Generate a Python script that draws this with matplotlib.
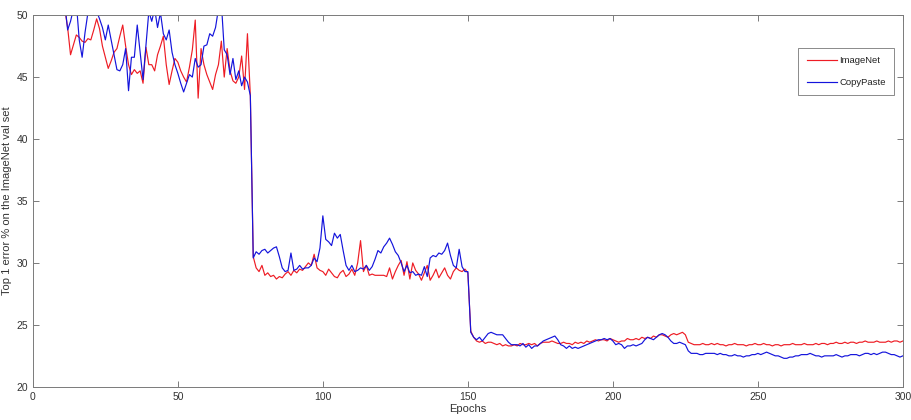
import numpy as np
import matplotlib
matplotlib.use("Agg")
import matplotlib.pyplot as plt

epochs = np.arange(1, 301)

imagenet_err = [
    56.0, 54.5, 53.5, 52.8, 52.0, 51.5, 51.2, 50.8, 50.6, 50.4,
    50.5, 49.0, 46.8, 47.6, 48.4, 48.2, 47.9, 47.8, 48.1, 48.0,
    48.8, 49.7, 48.9, 47.5, 46.6, 45.7, 46.3, 47.0, 47.3, 48.3,
    49.2, 47.5, 46.0, 45.2, 45.6, 45.3, 45.5, 44.5, 47.4, 46.0,
    46.0, 45.5, 46.8, 47.5, 48.3, 46.0, 44.4, 45.5, 46.5, 46.2,
    45.5, 45.0, 44.6, 45.8, 47.2, 49.6, 43.3, 47.3, 46.0, 45.2,
    44.6, 44.0, 45.2, 46.0, 47.9, 45.0, 47.3, 45.5, 44.7, 44.5,
    45.0, 46.7, 44.0, 48.5, 43.5,
    30.5, 29.6, 29.3, 29.8, 29.0, 29.2, 28.9, 29.0, 28.7, 28.9,
    28.8, 29.1, 29.3, 29.0, 29.4, 29.2, 29.5, 29.4, 29.7, 30.0,
    29.8, 30.7, 29.6, 29.4, 29.3, 29.0, 29.5, 29.2, 28.9, 28.8,
    29.2, 29.4, 28.9, 29.1, 29.5, 29.0, 30.0, 31.8, 29.3, 29.8,
    29.0, 29.1, 29.0, 29.0, 29.0, 29.0, 28.9, 29.6, 28.7, 29.3,
    29.8, 30.2, 29.0, 30.1, 28.7, 30.0, 29.4, 29.1, 28.6, 29.2,
    29.8, 28.6, 29.0, 29.5, 28.8, 29.2, 29.6, 29.0, 28.7, 29.3,
    29.6, 29.4, 29.3, 29.5, 29.2,
    24.5, 24.0, 23.7, 23.6, 23.7, 23.5, 23.6, 23.6, 23.5, 23.4,
    23.5, 23.3, 23.4, 23.3, 23.3, 23.4, 23.3, 23.5, 23.4, 23.4,
    23.5, 23.4, 23.5, 23.3, 23.5, 23.6, 23.6, 23.6, 23.7, 23.6,
    23.5, 23.5, 23.6, 23.5, 23.5, 23.4, 23.6, 23.5, 23.6, 23.5,
    23.7, 23.6, 23.7, 23.8, 23.7, 23.8, 23.8, 23.7, 23.9, 23.8,
    23.7, 23.6, 23.7, 23.7, 23.9, 23.8, 23.8, 23.9, 23.8, 24.0,
    23.9, 24.0, 23.9, 24.1, 24.0, 24.2, 24.2, 24.1, 24.0, 24.2,
    24.3, 24.2, 24.3, 24.4, 24.2,
    23.6, 23.5, 23.4, 23.4, 23.4, 23.5, 23.4, 23.4, 23.5, 23.4,
    23.5, 23.4, 23.4, 23.3, 23.4, 23.4, 23.5, 23.4, 23.4, 23.4,
    23.3, 23.4, 23.4, 23.5, 23.4, 23.4, 23.5, 23.4, 23.4, 23.3,
    23.4, 23.4, 23.3, 23.4, 23.4, 23.4, 23.5, 23.4, 23.4, 23.4,
    23.5, 23.4, 23.4, 23.4, 23.5, 23.4, 23.5, 23.5, 23.4, 23.5,
    23.5, 23.6, 23.5, 23.5, 23.6, 23.5, 23.6, 23.6, 23.5, 23.6,
    23.6, 23.7, 23.6, 23.6, 23.6, 23.7, 23.6, 23.6, 23.6, 23.7,
    23.6, 23.7, 23.7, 23.6, 23.7,
]

copypaste_err = [
    57.0, 55.0, 54.0, 53.0, 52.5, 52.0, 51.5, 51.2, 51.0, 50.8,
    51.0, 48.8, 49.5, 50.5, 51.0, 48.0, 46.6, 48.6, 50.2, 50.5,
    50.8, 50.3, 49.7, 49.0, 48.0, 49.2, 48.0, 46.8, 45.6, 45.5,
    46.0, 47.3, 43.9, 46.6, 46.6, 49.2, 47.0, 44.8, 47.5, 50.3,
    49.5, 50.5, 49.0, 50.2, 48.5, 48.0, 48.8, 47.0, 46.0, 45.3,
    44.5, 43.8, 44.5, 45.2, 45.0, 46.5, 45.8, 46.0, 47.5, 47.6,
    48.5, 48.3, 49.0, 50.5, 51.0, 47.2, 46.8, 45.2, 46.5, 44.8,
    45.5, 44.3, 45.0, 44.6, 43.5,
    30.4, 30.9, 30.7, 31.0, 31.1, 30.8, 31.0, 31.2, 31.3, 30.5,
    29.6, 29.3, 29.4, 30.8, 29.4, 29.5, 29.8, 29.5, 29.6, 29.6,
    29.8, 30.4, 30.1, 31.2, 33.8, 31.9, 31.7, 31.4, 32.4, 32.0,
    32.3, 31.0, 29.8, 29.4, 29.8, 29.3, 29.4, 29.6, 29.5, 29.8,
    29.4, 29.7, 30.3, 31.0, 30.8, 31.3, 31.6, 32.0, 31.5, 30.9,
    30.6, 30.0, 29.3, 29.8, 29.2, 29.3, 29.0, 29.1, 29.0, 29.7,
    28.9, 30.4, 30.6, 30.5, 30.8, 30.7, 31.0, 31.6, 30.6, 29.8,
    29.6, 31.1, 29.7, 29.3, 29.3,
    24.4, 24.0, 23.8, 24.0, 23.7, 24.0, 24.3, 24.4, 24.3, 24.2,
    24.2, 24.2, 23.9, 23.6, 23.4, 23.4, 23.4, 23.3, 23.5, 23.2,
    23.4, 23.1, 23.3, 23.3, 23.5, 23.7, 23.8, 23.9, 24.0, 24.1,
    23.8, 23.4, 23.3, 23.1, 23.3, 23.1, 23.2, 23.1, 23.2, 23.3,
    23.4, 23.5, 23.6, 23.7, 23.8, 23.8, 23.9, 23.8, 23.9, 23.7,
    23.4, 23.5, 23.4, 23.1, 23.3, 23.3, 23.4, 23.3, 23.4, 23.5,
    23.8, 24.0, 23.9, 23.8, 24.0, 24.2, 24.3, 24.2, 24.0, 23.7,
    23.5, 23.5, 23.6, 23.5, 23.4,
    22.9, 22.7, 22.7, 22.7, 22.6, 22.6, 22.7, 22.7, 22.7, 22.7,
    22.6, 22.7, 22.6, 22.6, 22.5, 22.5, 22.6, 22.5, 22.5, 22.4,
    22.5, 22.5, 22.6, 22.6, 22.7, 22.6, 22.7, 22.8, 22.7, 22.6,
    22.5, 22.5, 22.4, 22.3, 22.3, 22.4, 22.4, 22.5, 22.5, 22.6,
    22.6, 22.6, 22.7, 22.6, 22.5, 22.5, 22.4, 22.5, 22.5, 22.5,
    22.5, 22.6, 22.5, 22.4, 22.5, 22.5, 22.6, 22.6, 22.6, 22.5,
    22.6, 22.7, 22.7, 22.6, 22.7, 22.6, 22.7, 22.8, 22.8, 22.7,
    22.6, 22.6, 22.5, 22.4, 22.5,
]

x_ticks = [0, 50, 100, 150, 200, 250, 300]
y_ticks = [20, 25, 30, 35, 40, 45, 50]

plt.rcParams['font.family'] = ['Liberation Sans', 'DejaVu Sans']

fig = plt.figure(figsize=(9.12, 4.2), dpi=100)
ax = fig.add_axes([0.036, 0.079, 0.954, 0.885])

ax.plot(epochs, imagenet_err, color='#ee1c24', lw=0.85, label='ImageNet')
ax.plot(epochs, copypaste_err, color='#1414dc', lw=0.85, label='CopyPaste')

ax.set_xlim(0, 300)
ax.set_ylim(20, 50)
ax.set_xticks(x_ticks)
ax.set_yticks(y_ticks)

spine_col = '#7a7a7a'
text_col = '#333333'
for s in ax.spines.values():
    s.set_color(spine_col)
    s.set_linewidth(0.7)
ax.tick_params(direction='in', length=4, width=0.7, colors=spine_col,
               labelcolor=text_col, labelsize=7.5, top=True, right=True)

ax.set_xlabel('Epochs', fontsize=8, color=text_col, labelpad=2)
ax.set_ylabel('Top 1 error % on the ImageNet val set', fontsize=8,
              color=text_col, labelpad=3)

leg = ax.legend(loc='upper left', bbox_to_anchor=(0.880, 0.911),
                fontsize=6.8, frameon=True, fancybox=False,
                edgecolor='#555555', handlelength=3.2, borderpad=0.85,
                labelspacing=1.4, handletextpad=0.3, borderaxespad=0)
leg.get_frame().set_linewidth(0.6)
for t in leg.get_texts():
    t.set_color('#222222')

fig.savefig('out.png', dpi=100)
